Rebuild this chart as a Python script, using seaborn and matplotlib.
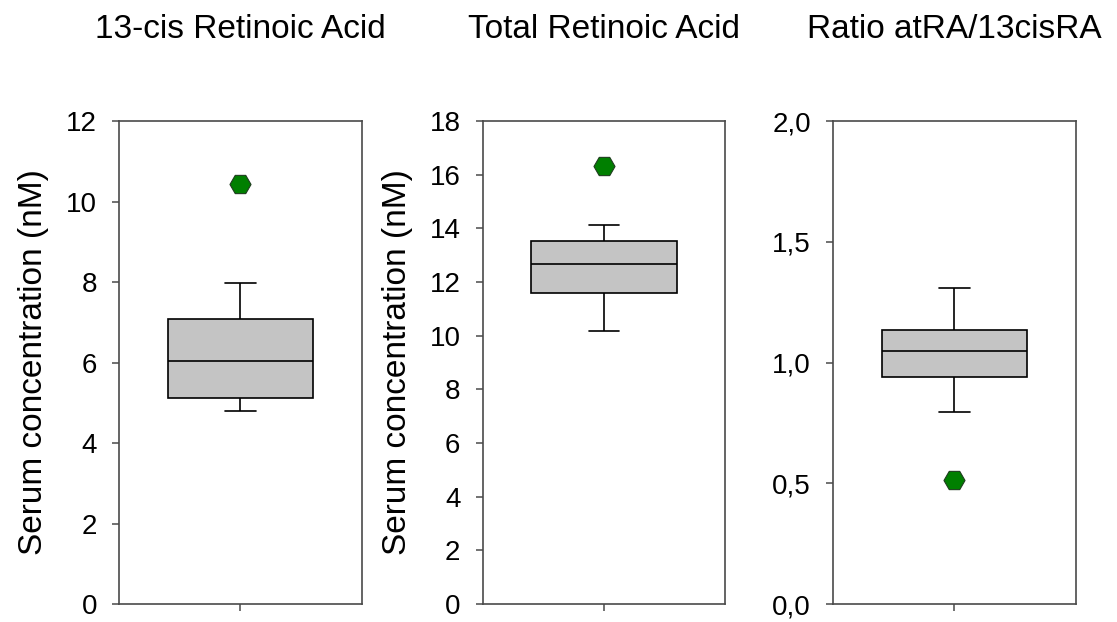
import matplotlib
matplotlib.use("Agg")
import matplotlib.pyplot as plt
import seaborn as sns

# Dane: whisker dolny, Q1, mediana, Q3, whisker górny
titles = ["13-cis Retinoic Acid", "Total Retinoic Acid", "Ratio atRA/13cisRA"]
cis_stats = [4.80, 5.11, 6.03, 7.09, 7.97]
total_stats = [10.17, 11.59, 12.67, 13.54, 14.14]
ratio_stats = [0.794, 0.940, 1.049, 1.136, 1.307]
outliers = [10.43, 16.33, 0.513]

ylims = [(0, 12), (0, 18), (0, 2.0)]
yticks = [[0, 2, 4, 6, 8, 10, 12],
          [0, 2, 4, 6, 8, 10, 12, 14, 16, 18],
          [0.0, 0.5, 1.0, 1.5, 2.0]]
ytick_labels = [["0", "2", "4", "6", "8", "10", "12"],
                ["0", "2", "4", "6", "8", "10", "12", "14", "16", "18"],
                ["0,0", "0,5", "1,0", "1,5", "2,0"]]
ylabels = ["Serum concentration (nM)", "Serum concentration (nM)", ""]

sns.set_style("white")
plt.rcParams['font.family'] = ['Liberation Sans', 'DejaVu Sans']
plt.rcParams['text.color'] = 'black'
plt.rcParams['axes.labelcolor'] = 'black'
plt.rcParams['xtick.color'] = 'black'
plt.rcParams['ytick.color'] = 'black'

fig = plt.figure(figsize=(11.17, 6.22), dpi=100)
lefts = [0.1068, 0.4321, 0.746]
spine_col = "#4a4a4a"

for i, stats in enumerate([cis_stats, total_stats, ratio_stats]):
    ax = fig.add_axes([lefts[i], 0.0289, 0.217, 0.7765])
    sns.boxplot(y=stats, ax=ax, whis=(0, 100), width=0.6, color="#c4c4c4",
                linecolor="black", linewidth=1.2, showfliers=False,
                saturation=1, capwidths=0.125)
    sns.scatterplot(x=[0], y=[outliers[i]], ax=ax, marker="H", s=230,
                    color="#007f00", edgecolor="#1f3d1f", linewidth=0.8,
                    zorder=5)
    ax.set_xlim(-0.5, 0.5)
    ax.set_ylim(*ylims[i])
    ax.set_yticks(yticks[i])
    ax.set_yticklabels(ytick_labels[i], fontsize=20)
    ax.set_xticks([0])
    ax.set_xticklabels([""])
    ax.tick_params(axis="y", direction="out", length=5, width=1.1,
                   color=spine_col, pad=11, left=True)
    ax.tick_params(axis="x", direction="out", length=5, width=1.1,
                   color=spine_col, bottom=True)
    for s in ax.spines.values():
        s.set_color(spine_col)
        s.set_linewidth(1.2)
    ax.set_ylabel(ylabels[i], fontsize=24, labelpad=12)
    ax.set_title(titles[i], fontsize=24, pad=60)

fig.savefig("out.png", dpi=100)
